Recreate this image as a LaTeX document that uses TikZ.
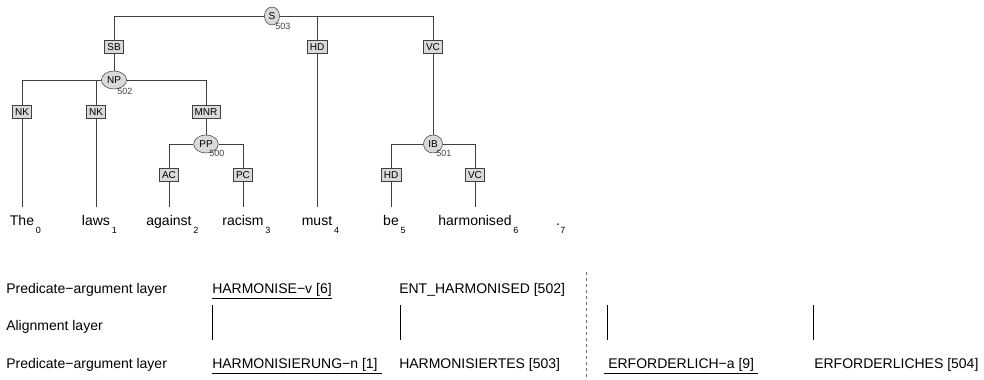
\documentclass[tikz,border=0pt]{standalone}
\usepackage{fontspec}
\setmainfont{Liberation Sans}
\usepackage{tikz}
\usetikzlibrary{positioning,shapes.geometric}
\definecolor{Edge}{HTML}{404040}
\definecolor{Shade}{HTML}{D9D9D9}
\definecolor{Sep}{HTML}{6E6E6E}

\begin{document}
\begin{tikzpicture}[
  x=0.75pt,y=-0.75pt,
  cat/.style={ellipse,draw=Edge,fill=Shade,font=\fontsize{7.5}{8}\selectfont,inner xsep=1.5pt,inner ysep=1pt,minimum height=13.5pt},
  fn/.style={rectangle,draw=Edge,fill=Shade,font=\fontsize{7.5}{8}\selectfont,inner xsep=2pt,inner ysep=0pt,minimum height=9.75pt,minimum width=14pt},
  num/.style={anchor=north west,inner sep=0pt,font=\fontsize{6.75}{7}\selectfont,text=Edge},
  word/.style={anchor=base,inner xsep=0pt,inner ysep=5.9pt,text height=7.6pt,font=\fontsize{10.5}{12}\selectfont},
  idx/.style={anchor=base west,inner sep=0pt,font=\fontsize{6.75}{7}\selectfont},
  layer/.style={anchor=base west,inner sep=0pt,font=\fontsize{10.5}{12}\selectfont},
  edge/.style={draw=Edge,line width=0.75pt},
  link/.style={draw=black,line width=0.6pt},
  uline/.style={draw=black,line width=0.75pt},
  sep/.style={draw=Sep,line width=0.75pt,dash pattern=on 2.5pt off 2pt}
]
\useasboundingbox (0,0) rectangle (984,379);

% syntax tree
\node[cat] (s) at (272,16) {S};
\node[num] at ([xshift=2.25pt,yshift=1.5pt]s.south) {503};
\node[fn] (sb) at (114,47) {SB};
\node[fn] (hds) at (317,47) {HD};
\node[fn] (vcs) at (433,47) {VC};
\node[cat] (np) at (114,80) {NP};
\node[num] at ([xshift=2.25pt,yshift=0.75pt]np.south) {502};
\node[fn] (nka) at (22,112) {NK};
\node[fn] (nkb) at (96,112) {NK};
\node[fn] (mnr) at (206,112) {MNR};
\node[cat] (pp) at (206,144) {PP};
\node[num] at ([xshift=2.25pt,yshift=2.25pt]pp.south) {500};
\node[fn] (ac) at (169,175) {AC};
\node[fn] (pc) at (243,175) {PC};
\node[cat] (ib) at (433,144) {IB};
\node[num] at ([xshift=2.25pt,yshift=2.25pt]ib.south) {501};
\node[fn] (hdi) at (391,175) {HD};
\node[fn] (vci) at (475,175) {VC};

% tokens
\node[word] (w0) at (22,225) {The};
\node[word] (w1) at (96,225) {laws};
\node[word] (w2) at (169,225) {against};
\node[word] (w3) at (243,225) {racism};
\node[word] (w4) at (317,225) {must};
\node[word] (w5) at (391,225) {be};
\node[word] (w6) at (475,225) {harmonised};
\node[word] (w7) at (558,225) {.};
\node[idx] (i0) at ([xshift=1pt,yshift=-6pt]w0.base east) {0};
\node[idx] (i1) at ([xshift=1pt,yshift=-6pt]w1.base east) {1};
\node[idx] (i2) at ([xshift=1pt,yshift=-6pt]w2.base east) {2};
\node[idx] (i3) at ([xshift=1pt,yshift=-6pt]w3.base east) {3};
\node[idx] (i4) at ([xshift=1pt,yshift=-6pt]w4.base east) {4};
\node[idx] (i5) at ([xshift=1pt,yshift=-6pt]w5.base east) {5};
\node[idx] (i6) at ([xshift=1pt,yshift=-6pt]w6.base east) {6};
\node[idx] (i7) at ([xshift=0pt,yshift=-6pt]w7.base east) {7};

\draw[edge] (s.west) -| (sb.north);
\draw[edge] (s.east) -| (vcs.north);
\draw[edge] (hds.north) -- (hds.north |- s.east);
\draw[edge] (sb.south) -- (np.north);
\draw[edge] (hds.south) -- (w4.north);
\draw[edge] (vcs.south) -- (ib.north);
\draw[edge] (np.west) -| (nka.north);
\draw[edge] (np.east) -| (mnr.north);
\draw[edge] (nkb.north) -- (nkb.north |- np.west);
\draw[edge] (nka.south) -- (w0.north);
\draw[edge] (nkb.south) -- (w1.north);
\draw[edge] (mnr.south) -- (pp.north);
\draw[edge] (pp.west) -| (ac.north);
\draw[edge] (pp.east) -| (pc.north);
\draw[edge] (ac.south) -- (w2.north);
\draw[edge] (pc.south) -- (w3.north);
\draw[edge] (ib.west) -| (hdi.north);
\draw[edge] (ib.east) -| (vci.north);
\draw[edge] (hdi.south) -- (w5.north);
\draw[edge] (vci.south) -- (w6.north);

% layers
\node[layer] (lab1) at (6,293) {Predicate−argument layer};
\node[layer] (lab2) at (6,330) {Alignment layer};
\node[layer] (lab3) at (6,368) {Predicate−argument layer};
\node[layer] (ev) at (212,293) {HARMONISE−v [6]};
\node[layer] (eh) at (399,293) {ENT\_HARMONISED [502]};
\node[layer] (gn) at (212,368) {HARMONISIERUNG−n [1]};
\node[layer] (gh) at (399,368) {HARMONISIERTES [503]};
\node[layer] (ga) at (608,368) {ERFORDERLICH−a [9]};
\node[layer] (ge) at (814,368) {ERFORDERLICHES [504]};

\draw[uline] ([yshift=-3.75pt]ev.base west) -- ([yshift=-3.75pt]ev.base east);
\draw[uline] ([yshift=-3.75pt]gn.base west) -- ([xshift=3pt,yshift=-3.75pt]gn.base east);
\draw[uline] ([xshift=-3pt,yshift=-3.75pt]ga.base west) -- ([xshift=3pt,yshift=-3.75pt]ga.base east);

\draw[link] ([yshift=-9pt]ev.base west) -- ([yshift=21pt]gn.base west);
\draw[link] ([xshift=0.75pt,yshift=-9pt]eh.base west) -- ([xshift=0.75pt,yshift=21pt]gh.base west);
\draw[link] ([xshift=-0.75pt,yshift=47.25pt]ga.base west) -- ([xshift=-0.75pt,yshift=21pt]ga.base west);
\draw[link] ([xshift=-0.75pt,yshift=47.25pt]ge.base west) -- ([xshift=-0.75pt,yshift=21pt]ge.base west);

\draw[sep] (586,272) -- (586,379);
\end{tikzpicture}
\end{document}
